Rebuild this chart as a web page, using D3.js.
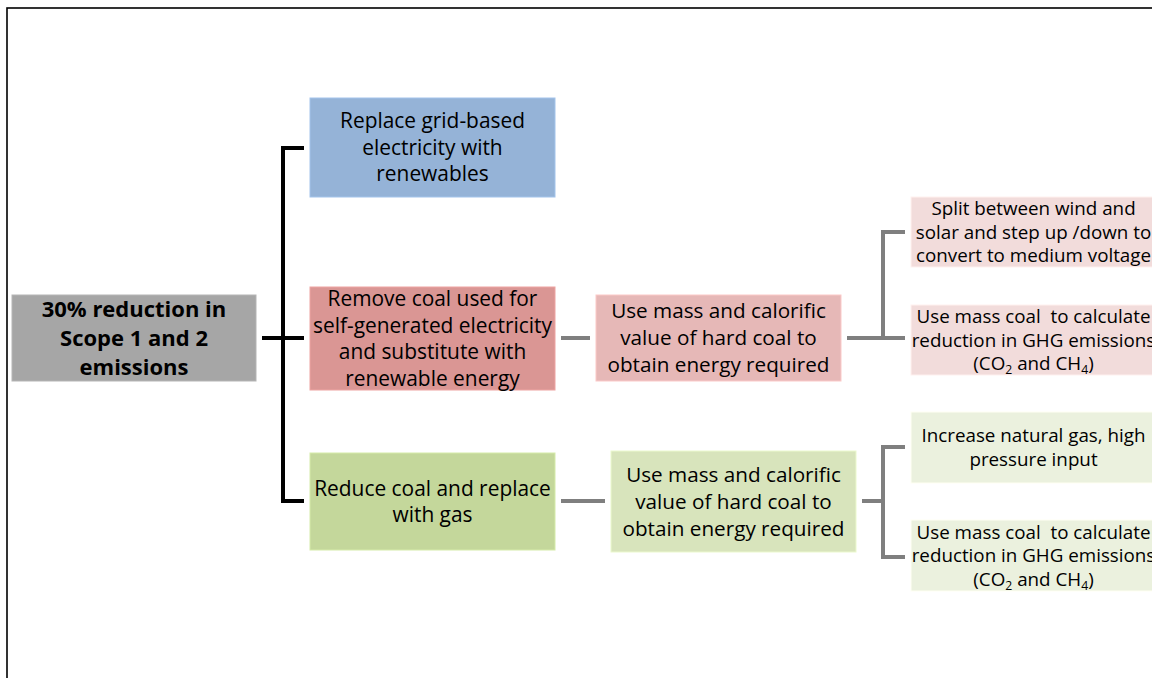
<!DOCTYPE html>
<html>
<head>
<meta charset="utf-8">
<script src="https://cdn.jsdelivr.net/npm/d3@7"></script>
<style>
  html, body { margin: 0; padding: 0; background: #fff; overflow: hidden; }
  svg { display: block; font-family: "Open Sans", "Noto Sans", sans-serif; }
  text { white-space: pre; }
</style>
</head>
<body>
<div id="chart"></div>
<script>
// ---- content ----
const goalLabel = ["30% reduction in", "Scope 1 and 2", "emissions"];

const strategyLabels = [
  ["Replace grid-based", "electricity with", "renewables"],
  ["Remove coal used for", "self-generated electricity", "and substitute with", "renewable energy"],
  ["Reduce coal and replace", "with gas"]
];

const methodLabels = [
  null,
  ["Use mass and calorific", "value of hard coal to", "obtain energy required"],
  ["Use mass and calorific", "value of hard coal to", "obtain energy required"]
];

const detailLabels = [
  null,
  [
    ["Split between wind and", "solar and step up /down to", "convert to medium voltage"],
    ["Use mass coal  to calculate", "reduction in GHG emissions", "(CO_2 and CH_4)"]
  ],
  [
    ["Increase natural gas, high", "pressure input"],
    ["Use mass coal  to calculate", "reduction in GHG emissions", "(CO_2 and CH_4)"]
  ]
];

// ---- styling / layout ----
const W = 1152, H = 678;
const strategyFill = ["#95b3d7", "#da9694", "#c4d79b"];
const methodFill = [null, "#e6b8b7", "#d8e4bc"];
const detailFill = [null, "#f2dcdb", "#ebf1de"];

// column left edges and widths by depth
const colX = d3.scaleOrdinal().domain([0, 1, 2, 3]).range([12, 310, 596, 911]);
const colW = d3.scaleOrdinal().domain([0, 1, 2, 3]).range([244, 245, 245, 245]);
const methodShift = [0, 0, 15];           // green method box sits a bit further right

// vertical box extents [top, bottom]
const goalBox = [295, 381];
const strategyBox = [[98, 197], [287, 390], [453, 550]];
const methodBox = [null, [295, 381], [451, 552]];
const detailBox = [null, [[197, 267], [305, 375]], [[412, 483], [520, 591]]];

const svg = d3.select("#chart").append("svg")
  .attr("width", W).attr("height", H);

// outer frame (runs off the right and bottom edges)
svg.append("rect")
  .attr("x", 7).attr("y", 8)
  .attr("width", W + 20).attr("height", H + 20)
  .attr("fill", "none").attr("stroke", "#000").attr("stroke-width", 1.6);

const gLinks = svg.append("g");
const gBoxes = svg.append("g");

function drawBox(x, w, y0, y1, fill, lines, opts) {
  const g = gBoxes.append("g");
  g.append("rect")
    .attr("x", x).attr("y", y0)
    .attr("width", w).attr("height", y1 - y0)
    .attr("fill", fill)
    .attr("stroke", d3.color(fill).brighter(0.25))
    .attr("stroke-width", 1);
  const cy = (y0 + y1) / 2;
  const lh = opts.lineHeight;
  const first = cy - (lines.length - 1) * lh / 2;
  const subShift = opts.size * 0.22;
  lines.forEach((ln, i) => {
    const t = g.append("text")
      .attr("x", x + w / 2)
      .attr("y", first + i * lh)
      .attr("dy", "0.35em")
      .attr("text-anchor", "middle")
      .attr("fill", "#000")
      .attr("font-size", opts.size + "px")
      .attr("font-weight", opts.bold ? "bold" : "normal");
    // handle subscripts written as X_n
    const parts = ln.split(/_(\d)/);
    let lowered = false;
    parts.forEach((p, k) => {
      if (k % 2 === 1) {
        t.append("tspan").attr("font-size", (opts.size * 0.65) + "px").attr("dy", subShift).text(p);
        lowered = true;
      } else if (p) {
        const s = t.append("tspan").text(p);
        if (lowered) { s.attr("dy", -subShift); lowered = false; }
      }
    });
  });
}

function linkPath(d, color, width) {
  gLinks.append("path")
    .attr("d", d)
    .attr("fill", "none")
    .attr("stroke", color)
    .attr("stroke-width", width)
    .attr("stroke-linejoin", "miter");
}

// root
drawBox(colX(0), colW(0), goalBox[0], goalBox[1], "#a6a6a6", goalLabel, { size: 22, lineHeight: 29, bold: true });
const rootMid = (goalBox[0] + goalBox[1]) / 2;

// root bracket (black)
const spineX = 283;
const rootStubs = [148, rootMid, 501];
linkPath(`M${colX(0) + colW(0) + 6},${rootMid} H${colX(1) - 6}`, "#000", 4);
linkPath(`M${colX(1) - 6},${rootStubs[0]} H${spineX} V${rootStubs[2]} H${colX(1) - 6}`, "#000", 4);

strategyLabels.forEach((lab, i) => {
  const b = strategyBox[i];
  drawBox(colX(1), colW(1), b[0], b[1], strategyFill[i], lab, { size: 20.9, lineHeight: 26.5 });

  if (!methodLabels[i]) return;
  const mb = methodBox[i];
  const mx = colX(2) + methodShift[i];
  const yLink = i === 1 ? rootMid : 501;
  linkPath(`M${colX(1) + colW(1) + 6},${yLink} H${mx - 6}`, "#7f7f7f", 4);
  drawBox(mx, colW(2), mb[0], mb[1], methodFill[i], methodLabels[i], { size: 20.7, lineHeight: 27 });

  // method -> details bracket (gray)
  const dBoxes = detailBox[i];
  const bx = 883;
  const stubs = i === 1 ? [232, rootMid] : [447, 557];
  linkPath(`M${mx + colW(2) + 6},${yLink} H${bx}`, "#7f7f7f", 4);
  linkPath(`M${colX(3) - 6},${stubs[0]} H${bx} V${stubs[1]} H${colX(3) - 6}`, "#7f7f7f", 4);

  detailLabels[i].forEach((dl, j) => {
    drawBox(colX(3), colW(3), dBoxes[j][0], dBoxes[j][1], detailFill[i], dl, { size: 18.8, lineHeight: 23.5 });
  });
});
</script>
</body>
</html>
